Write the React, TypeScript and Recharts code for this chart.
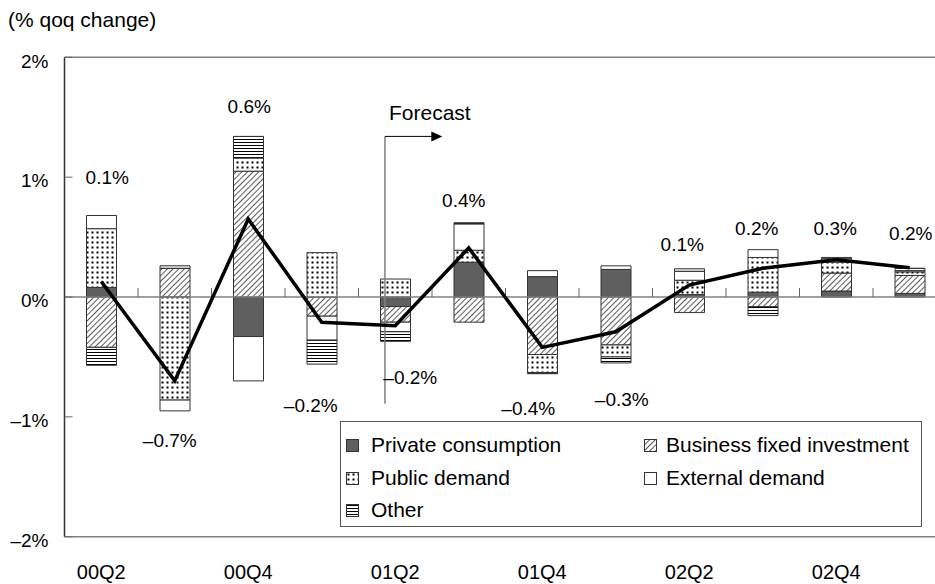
import React from "react";
import {
  ComposedChart,
  Bar,
  Line,
  XAxis,
  YAxis,
  ReferenceLine,
  LabelList,
  Legend,
} from "recharts";

const quarters = ["00Q2", "00Q3", "00Q4", "01Q1", "01Q2", "01Q3", "01Q4", "02Q1", "02Q2", "02Q3", "02Q4", "03Q1"];

// contributions to real GDP growth (% points)
const privateConsumption = [0.08, 0, -0.33, 0, -0.08, 0.29, 0.17, 0.23, 0.02, 0.04, 0.05, 0.03];
const businessInvestment = [-0.42, 0.24, 1.05, -0.16, -0.13, -0.21, -0.48, -0.4, -0.13, -0.08, 0.15, 0.15];
const publicDemand = [0.49, -0.86, 0.11, 0.37, 0.15, 0.1, -0.15, -0.1, 0.12, 0.29, 0.09, 0.03];
const externalDemand = [0.11, -0.09, -0.37, -0.2, -0.08, 0.22, 0.05, 0.03, 0.075, 0.065, 0.03, 0.01];
const otherDemand = [-0.15, 0.02, 0.18, -0.2, -0.08, 0.01, -0.01, -0.05, 0.02, -0.075, 0.01, 0.02];
const gdpGrowth = [0.13, -0.7, 0.65, -0.21, -0.24, 0.41, -0.42, -0.29, 0.1, 0.24, 0.31, 0.245];
const growthLabels = ["0.1%", "–0.7%", "0.6%", "–0.2%", "–0.2%", "0.4%", "–0.4%", "–0.3%", "0.1%", "0.2%", "0.3%", "0.2%"];
const yTicks = [-2, -1, 0, 1, 2];

// hand placed label offsets (px) from each line point
const labelDx = [6, -5, 1, -11, 15, -5, -14, 6, -7, -6, -1, 1];
const labelDy = [-104, 60, -113, 83, 52, -47, 61, 68, -41, -40, -31, -34];

// forecast marker, in band units / % units
const forecastX = 4.36;
const forecastArrowEnd = 5.14;
const forecastTop = 1.34;
const forecastBottom = -0.89;

const FONT = '"Liberation Sans", Arial, sans-serif';

const series = [
  { key: "pc", name: "Private consumption", fill: "#5f5f5f" },
  { key: "bfi", name: "Business fixed investment", fill: "url(#hatch)" },
  { key: "pub", name: "Public demand", fill: "url(#dots)" },
  { key: "ext", name: "External demand", fill: "#ffffff" },
  { key: "oth", name: "Other", fill: "url(#hlines)" },
];

const data = quarters.map((q, i) => ({
  q,
  pos: i + 0.5,
  pc: privateConsumption[i],
  bfi: businessInvestment[i],
  pub: publicDemand[i],
  ext: externalDemand[i],
  oth: otherDemand[i],
  gdp: gdpGrowth[i],
}));

const fmtPct = (v: number) => (v < 0 ? `–${Math.abs(v)}%` : `${v}%`);

const GrowthLabel = (props: any) => {
  const { x, y, index } = props;
  return (
    <text
      x={x + labelDx[index]}
      y={y + labelDy[index]}
      textAnchor="middle"
      dominantBaseline="central"
      fontSize={19}
      fontFamily={FONT}
      fill="#000"
    >
      {growthLabels[index]}
    </text>
  );
};

const ArrowShape = (p: any) => {
  const { x1, y1, x2, y2 } = p;
  return (
    <g>
      <line x1={x1} y1={y1} x2={x2 - 9} y2={y2} stroke="#000" strokeWidth={1} />
      <polygon points={`${x2},${y2} ${x2 - 11},${y2 - 5} ${x2 - 11},${y2 + 5}`} fill="#000" />
      <text x={x1 + 4} y={y1 - 24} dominantBaseline="central" fontSize={21} fontFamily={FONT} fill="#000">
        Forecast
      </text>
    </g>
  );
};

const LegendBox = () => {
  const rows = [23, 56, 88];
  const cols = [[5, 30], [303, 325]];
  return (
    <div style={{ position: "relative", width: "100%", height: "100%", fontFamily: FONT, fontSize: 21 }}>
      {series.map((s, i) => {
        const r = rows[Math.floor(i / 2)];
        const [ix, tx] = cols[i % 2];
        return (
          <React.Fragment key={s.key}>
            <svg width={13} height={13} style={{ position: "absolute", left: ix, top: r - 6 }}>
              <rect x={0.5} y={0.5} width={12} height={12} fill={s.fill} stroke="#333" strokeWidth={1} />
            </svg>
            <span style={{ position: "absolute", left: tx, top: r - 12, lineHeight: "24px", whiteSpace: "nowrap", color: "#000" }}>
              {s.name}
            </span>
          </React.Fragment>
        );
      })}
    </div>
  );
};

export default function App() {
  const boundaries = quarters.slice(1).map((_, i) => i + 1);
  return (
    <div style={{ position: "absolute", left: 0, top: 0, width: 935, height: 584, overflow: "hidden", background: "#fff", fontFamily: FONT }}>
      <div style={{ position: "absolute", left: 8, top: 8, fontSize: 21, lineHeight: "24px", color: "#000" }}>
        (% qoq change)
      </div>
      <ComposedChart
        width={960}
        height={584}
        data={data}
        stackOffset="sign"
        margin={{ top: 57.3, right: 13.5, bottom: 0, left: 0 }}
      >
        <defs>
          <pattern id="hatch" patternUnits="userSpaceOnUse" width={4} height={4} patternTransform="rotate(45)">
            <rect width={4} height={4} fill="#fff" />
            <line x1={0} y1={0} x2={0} y2={4} stroke="#000" strokeWidth={1.3} />
          </pattern>
          <pattern id="dots" patternUnits="userSpaceOnUse" width={5} height={5}>
            <rect width={5} height={5} fill="#fff" />
            <rect x={1.5} y={1.5} width={2} height={2} fill="#000" />
          </pattern>
          <pattern id="hlines" patternUnits="userSpaceOnUse" width={4} height={3}>
            <rect width={4} height={3} fill="#fff" />
            <rect x={0} y={1} width={4} height={1} fill="#000" />
          </pattern>
        </defs>
        <XAxis
          dataKey="q"
          interval={1}
          axisLine={false}
          tickLine={false}
          tickSize={0}
          tickMargin={28}
          height={47.3}
          tick={{ fill: "#000", fontSize: 20, fontFamily: FONT }}
        />
        <XAxis
          xAxisId="num"
          dataKey="pos"
          type="number"
          scale="linear"
          domain={[0, quarters.length]}
          allowDataOverflow
          hide
        />
        <YAxis
          domain={[-2, 2]}
          ticks={yTicks}
          width={64.5}
          tickFormatter={fmtPct}
          tickSize={-8}
          tickMargin={24}
          axisLine={{ stroke: "#333", strokeWidth: 1.5 }}
          tickLine={{ stroke: "#666" }}
          tick={{ fill: "#000", fontSize: 19, fontFamily: FONT, dy: 3.5 }}
        />
        <ReferenceLine y={2} stroke="#808080" strokeWidth={1.5} />
        <ReferenceLine y={-2} stroke="#808080" strokeWidth={1.5} />
        {series.map((s) => (
          <Bar
            key={s.key}
            dataKey={s.key}
            name={s.name}
            stackId="a"
            fill={s.fill}
            stroke="#333"
            strokeWidth={1}
            barSize={30}
            isAnimationActive={false}
          />
        ))}
        <ReferenceLine y={0} stroke="#808080" strokeWidth={1.5} />
        {boundaries.map((b) => (
          <ReferenceLine
            key={b}
            xAxisId="num"
            segment={[{ x: b, y: 0 }, { x: b, y: 0.075 }]}
            stroke="#666"
            strokeWidth={1}
          />
        ))}
        <ReferenceLine
          xAxisId="num"
          segment={[{ x: forecastX, y: forecastBottom }, { x: forecastX, y: forecastTop }]}
          stroke="#808080"
          strokeWidth={1.5}
        />
        <ReferenceLine
          xAxisId="num"
          segment={[{ x: forecastX, y: forecastTop }, { x: forecastArrowEnd, y: forecastTop }]}
          shape={ArrowShape}
        />
        <Line
          dataKey="gdp"
          type="linear"
          stroke="#000"
          strokeWidth={3.5}
          dot={false}
          activeDot={false}
          isAnimationActive={false}
        >
          <LabelList dataKey="gdp" content={GrowthLabel} />
        </Line>
        <Legend
          layout="horizontal"
          verticalAlign="middle"
          align="center"
          wrapperStyle={{
            left: 340,
            top: 421,
            width: 582,
            height: 106,
            border: "1px solid #555",
            boxSizing: "border-box",
            background: "#fff",
          }}
          content={LegendBox}
        />
      </ComposedChart>
    </div>
  );
}
